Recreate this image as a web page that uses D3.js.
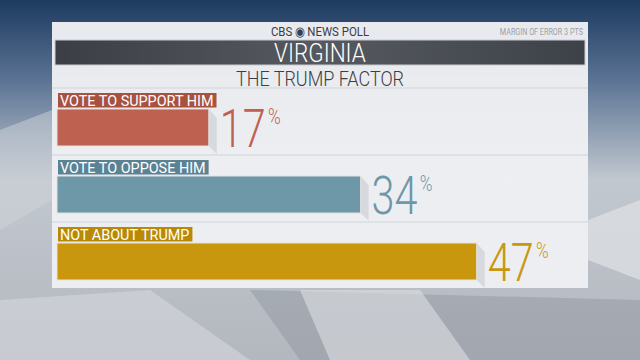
<!DOCTYPE html>
<meta charset="utf-8">
<style>
body { margin: 0; background: #8a97a8; }
svg { display: block; }
.lbl { font-family: Roboto, "DejaVu Sans Condensed", sans-serif; fill: #fff; }
.val { font-family: Roboto, "DejaVu Sans", sans-serif; font-weight: 300; }
</style>
<body>
<script src="https://cdn.jsdelivr.net/npm/d3@7"></script>
<script>

var width = 640,
    height = 360;

var categories = ["VOTE TO SUPPORT HIM", "VOTE TO OPPOSE HIM", "NOT ABOUT TRUMP"];
var values = [17, 34, 47];
var barColors = ["#bf6151", "#6e97a7", "#c9970e"];
var tagColors = ["#a8513f", "#5b8293", "#b98905"];

var svg = d3.select("body").append("svg")
    .attr("width", width)
    .attr("height", height);

var defs = svg.append("defs");

var bg = defs.append("linearGradient").attr("id", "bg")
    .attr("x1", 0).attr("y1", 0).attr("x2", 0).attr("y2", 1);
bg.append("stop").attr("offset", "0").attr("stop-color", "#1d3a60");
bg.append("stop").attr("offset", "0.22").attr("stop-color", "#5a7393");
bg.append("stop").attr("offset", "0.5").attr("stop-color", "#c2c8d0");
bg.append("stop").attr("offset", "1").attr("stop-color", "#b3b7be");

var dark = defs.append("linearGradient").attr("id", "dark")
    .attr("x1", 0).attr("y1", 0).attr("x2", 1).attr("y2", 0);
dark.append("stop").attr("offset", "0").attr("stop-color", "#3b3f45");
dark.append("stop").attr("offset", "0.5").attr("stop-color", "#565a60");
dark.append("stop").attr("offset", "1").attr("stop-color", "#3d4148");

svg.append("rect").attr("width", width).attr("height", height).attr("fill", "url(#bg)");

// background facets
svg.append("path").attr("d", "M0,300 L150,290 L250,360 L0,360Z").attr("fill", "#d0d3d8").attr("opacity", 0.7);
svg.append("path").attr("d", "M250,290 L300,360 L640,360 L640,300Z").attr("fill", "#8e949d").attr("opacity", 0.45);
svg.append("path").attr("d", "M300,290 L330,360 L470,360 L420,290Z").attr("fill", "#dcdfe3").attr("opacity", 0.6);
svg.append("path").attr("d", "M588,220 L640,200 L640,280 L588,260Z").attr("fill", "#dfe2e5").attr("opacity", 0.7);
svg.append("path").attr("d", "M0,130 L52,110 L52,200 L0,230Z").attr("fill", "#d0d4da").attr("opacity", 0.5);

// panel
svg.append("rect").attr("x", 52).attr("y", 22).attr("width", 536).attr("height", 266)
    .attr("fill", "#eef0f3").attr("opacity", 0.97);

svg.append("text").attr("x", 320).attr("y", 36).attr("text-anchor", "middle")
    .attr("font-family", "Roboto, sans-serif").attr("font-size", 13).attr("fill", "#3a3d42")
    .attr("transform", "translate(320,0) scale(0.88,1) translate(-320,0)")
    .text("CBS \u25C9 NEWS POLL");
svg.append("text").attr("x", 583).attr("y", 35).attr("text-anchor", "end")
    .attr("font-family", "Roboto, sans-serif").attr("font-size", 8.5).attr("fill", "#9a9ea5")
    .attr("transform", "translate(583,0) scale(0.85,1) translate(-583,0)")
    .text("MARGIN OF ERROR 3 PTS");

svg.append("rect").attr("x", 55).attr("y", 40).attr("width", 530).attr("height", 25)
    .attr("fill", "url(#dark)").attr("stroke", "#c9ccd1").attr("stroke-width", 1);
svg.append("text").attr("x", 320).attr("y", 62).attr("text-anchor", "middle")
    .attr("font-family", "Roboto, sans-serif").attr("font-weight", 300).attr("font-size", 25).attr("fill", "#fff")
    .attr("transform", "translate(320,0) scale(0.9,1) translate(-320,0)")
    .text("VIRGINIA");

svg.append("text").attr("x", 320).attr("y", 86).attr("text-anchor", "middle")
    .attr("font-family", "Roboto, sans-serif").attr("font-weight", 300).attr("font-size", 20).attr("fill", "#3a3d42")
    .attr("transform", "translate(320,0) scale(0.9,1) translate(-320,0)")
    .text("THE TRUMP FACTOR");

var x = d3.scaleLinear().domain([0, 100]).range([57, 950]);
var y = d3.scaleBand().domain(categories).range([88, 289]);

var lines = [88].concat(categories.map(function(d) { return y(d) + y.bandwidth(); }).slice(0, 2));
svg.selectAll(".sep").data(lines).enter().append("line")
    .attr("x1", 52).attr("x2", 588).attr("y1", function(d) { return d; }).attr("y2", function(d) { return d; })
    .attr("stroke", "#cfd3d9");

var row = svg.selectAll(".row").data(categories).enter().append("g")
    .attr("transform", function(d) { return "translate(0," + y(d) + ")"; });

// shadow behind bar
row.append("path")
    .attr("d", function(d, i) {
      var x1 = x(values[i]);
      return "M" + x1 + ",21 L" + (x1 + 8) + ",30 L" + (x1 + 8) + ",66 L" + x1 + ",58Z";
    })
    .attr("fill", "#d6d9de");

row.append("rect")
    .attr("x", x(0)).attr("y", 21)
    .attr("width", function(d, i) { return x(values[i]) - x(0); })
    .attr("height", 37)
    .attr("fill", function(d, i) { return barColors[i]; })
    .attr("stroke", "#e4e2dc").attr("stroke-width", 1);

var sx = 0.96;
var tag = row.append("g");
tag.append("text")
    .attr("class", "lbl")
    .attr("transform", "translate(60,17.5) scale(" + sx + ",1)")
    .attr("font-size", 15)
    .text(function(d) { return d; });
tag.each(function(d) {
  var g = d3.select(this), b = g.select("text").node().getBBox();
  g.insert("rect", "text").attr("x", 58).attr("y", 5).attr("width", b.width * sx + 5).attr("height", 14.5)
    .attr("fill", tagColors[categories.indexOf(d)]);
});

var val = row.append("text")
    .attr("class", "val")
    .attr("transform", function(d, i) { return "translate(" + (x(values[i]) + 11) + ",59) scale(0.78,1)"; })
    .attr("fill", function(d, i) { return barColors[i]; });
val.append("tspan").attr("font-size", 53).text(function(d, i) { return values[i]; });
val.append("tspan").attr("font-size", 22).attr("dy", -23).attr("dx", 3).text("%");

</script>
